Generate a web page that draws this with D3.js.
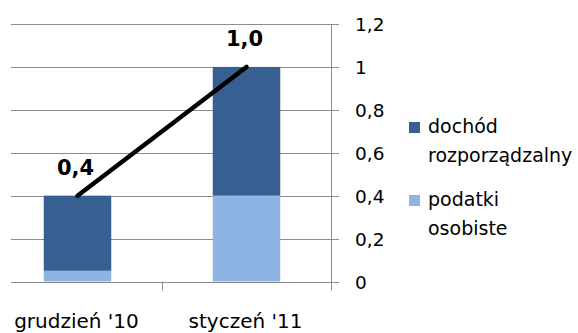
<!DOCTYPE html>
<html><head><meta charset="utf-8">
<script src="https://cdn.jsdelivr.net/npm/d3@7"></script>
<style>body{margin:0;background:#fff}svg{display:block}text{font-family:"DejaVu Sans",sans-serif;fill:#000}</style>
</head><body><svg id="c" width="578" height="333"></svg>
<script>
const categories = ["grudzień '10", "styczeń '11"];
const podatki = [0.05, 0.4];
const dochod = [0.35, 0.6];
const totals = [0.4, 1.0];
const totalLabels = ["0,4", "1,0"];
const yTicks = [0, 0.2, 0.4, 0.6, 0.8, 1, 1.2];
const yTickLabels = ["0", "0,2", "0,4", "0,6", "0,8", "1", "1,2"];
const legendNames = [["dochód", "rozporządzalny"], ["podatki", "osobiste"]];
const colors = {dochod: "#375F91", podatki: "#8EB4E3"};

const svg = d3.select("#c");
const x = d3.scaleBand().domain(categories).range([-7, 331]).paddingInner(0).paddingOuter(0);
const y = d3.scaleLinear().domain([0, 1.2]).range([281.5, 24]);
const gridLeft = 11, axisX = 331;

// gridlines
svg.append("g").selectAll("line").data(yTicks).join("line")
  .attr("x1", gridLeft).attr("x2", axisX + 8)
  .attr("y1", d => Math.round(y(d)) + 0.5).attr("y2", d => Math.round(y(d)) + 0.5)
  .attr("stroke", "#8c8c8c").attr("stroke-width", 1);

// bars
const bw = 67.5;
const g = svg.append("g");
categories.forEach((c, i) => {
  const cx = x(c) + x.bandwidth() / 2;
  g.append("rect").attr("x", cx - bw / 2).attr("width", bw)
    .attr("y", y(podatki[i])).attr("height", y(0) - y(podatki[i])).attr("fill", colors.podatki);
  g.append("rect").attr("x", cx - bw / 2).attr("width", bw)
    .attr("y", y(podatki[i] + dochod[i])).attr("height", y(podatki[i]) - y(podatki[i] + dochod[i])).attr("fill", colors.dochod);
});

// right axis
const ax = svg.append("g");
ax.append("line").attr("x1", axisX + 0.5).attr("x2", axisX + 0.5).attr("y1", y(1.2)).attr("y2", y(0) + 9)
  .attr("stroke", "#8c8c8c");
const sepXs = [x(categories[1])];
sepXs.forEach(sx => ax.append("line").attr("x1", Math.round(sx) + 0.5).attr("x2", Math.round(sx) + 0.5)
  .attr("y1", y(0)).attr("y2", y(0) + 9).attr("stroke", "#8c8c8c"));
ax.selectAll("text.yt").data(yTicks).join("text").attr("class", "yt")
  .attr("x", 355).attr("y", d => y(d) + 7).attr("font-size", 18.5)
  .text((d, i) => yTickLabels[i]);

// category labels
svg.selectAll("text.cat").data(categories).join("text").attr("class", "cat")
  .attr("x", d => x(d) + x.bandwidth() / 2 - 1).attr("y", 327.5).attr("text-anchor", "middle")
  .attr("font-size", 20).text(d => d);

// line
const line = d3.line().x((d, i) => x(categories[i]) + x.bandwidth() / 2).y(d => y(d));
svg.append("path").attr("d", line(totals)).attr("fill", "none").attr("stroke", "#000")
  .attr("stroke-width", 4.5).attr("stroke-linecap", "round");
svg.selectAll("text.tl").data(totals).join("text").attr("class", "tl")
  .attr("x", (d, i) => x(categories[i]) + x.bandwidth() / 2 - 2).attr("y", d => y(d) - 21)
  .attr("text-anchor", "middle").attr("font-size", 21).attr("font-weight", "bold")
  .text((d, i) => totalLabels[i]);

// legend
const leg = svg.append("g");
const legColors = [colors.dochod, colors.podatki];
const legTops = [122, 195];
legendNames.forEach((lines, i) => {
  leg.append("rect").attr("x", 409).attr("y", legTops[i]).attr("width", 11).attr("height", 11).attr("fill", legColors[i]);
  lines.forEach((t, j) => leg.append("text").attr("x", 428).attr("y", legTops[i] + 11 + j * 29)
    .attr("font-size", 19).text(t));
});
</script></body></html>
